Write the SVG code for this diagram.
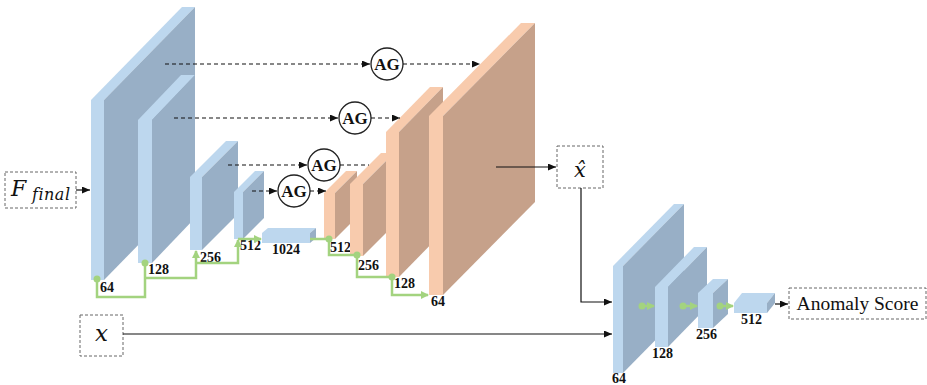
<svg xmlns="http://www.w3.org/2000/svg" width="927" height="385" viewBox="0 0 927 385">
<style>
.bf{fill:#bdd7ee}
.bs{fill:#98afc6}
.of{fill:#f8cbad}
.os{fill:#c6a18a}
.lbl{font-family:"Liberation Serif","Times New Roman",serif;font-weight:bold;font-size:14px;fill:#111}
.ag{fill:#fff;stroke:#222;stroke-width:1.3}
.agt{font-family:"Liberation Serif",serif;font-weight:bold;font-size:17px;fill:#111;text-anchor:middle}
.box{fill:#fff;stroke:#666;stroke-width:1;stroke-dasharray:3 2}
.math{font-family:"DejaVu Serif",serif;font-style:italic;fill:#111}
.ln{fill:none;stroke:#111;stroke-width:1.2}
.dash{fill:none;stroke:#111;stroke-width:1.2;stroke-dasharray:4 3}
.gr{fill:none;stroke:#a3d37f;stroke-width:2.5}
.gd{fill:#a3d37f}
</style>
<defs>
<marker id="ah" markerUnits="userSpaceOnUse" markerWidth="8" markerHeight="7" refX="8" refY="3.5" orient="auto"><path d="M0,0 L8,3.5 L0,7 z" fill="#111"/></marker>
<marker id="gh" markerUnits="userSpaceOnUse" markerWidth="8" markerHeight="8" refX="7" refY="4" orient="auto"><path d="M0,0 L8,4 L0,8 z" fill="#a3d37f"/></marker>
</defs>

<g id="f-final">
<rect class="box" x="5" y="172" width="71" height="36"/>
<text class="math" x="11" y="196" font-size="22">F</text>
<text class="math" x="32" y="200" font-size="16" letter-spacing="0.5">final</text>
</g>
<g id="x-input">
<rect class="box" x="80" y="315" width="43" height="41"/>
<text class="math" x="101.5" y="341" font-size="23" text-anchor="middle">x</text>
</g>

<g id="enc-64">
<polygon class="bf" points="91,100 104,100 195,7 182,7"/>
<polygon class="bs" points="104,100 195,7 195,187 104,280"/>
<rect class="bf" x="91" y="100" width="13" height="180"/>
<text class="lbl" x="100" y="292">64</text>
</g>
<g id="enc-128">
<polygon class="bf" points="138,120 152,120 195,75 181,75"/>
<polygon class="bs" points="152,120 195,75 195,218 152,263"/>
<rect class="bf" x="138" y="120" width="14" height="143"/>
<text class="lbl" x="148" y="274">128</text>
</g>
<g id="enc-256">
<polygon class="bf" points="190,177 202,177 238,141 226,141"/>
<polygon class="bs" points="202,177 238,141 238,214 202,250"/>
<rect class="bf" x="190" y="177" width="12" height="73"/>
<text class="lbl" x="200" y="262">256</text>
</g>
<g id="enc-512">
<polygon class="bf" points="234,192 243,192 264,171 255,171"/>
<polygon class="bs" points="243,192 264,171 264,218 243,239"/>
<rect class="bf" x="234" y="192" width="9" height="47"/>
<text class="lbl" x="240" y="250">512</text>
</g>
<g id="enc-1024">
<polygon class="bf" points="262,233 310,233 316,228 268,228"/>
<polygon class="bs" points="310,233 316,228 316,238 310,243"/>
<rect class="bf" x="262" y="233" width="48" height="10"/>
<text class="lbl" x="272" y="254">1024</text>
</g>

<g id="dec-512">
<polygon class="of" points="324,193 335,193 357,171 346,171"/>
<polygon class="os" points="335,193 357,171 357,217 335,239"/>
<rect class="of" x="324" y="193" width="11" height="46"/>
<text class="lbl" x="330" y="252">512</text>
</g>
<g id="dec-256">
<polygon class="of" points="350,184 363,184 394,153 381,153"/>
<polygon class="os" points="363,184 394,153 394,225 363,256"/>
<rect class="of" x="350" y="184" width="13" height="72"/>
<text class="lbl" x="358" y="270">256</text>
</g>
<g id="dec-128">
<polygon class="of" points="386,132 399,132 443,87 430,87"/>
<polygon class="os" points="399,132 443,87 443,232 399,277"/>
<rect class="of" x="386" y="132" width="13" height="145"/>
<text class="lbl" x="394" y="288">128</text>
</g>
<g id="dec-64">
<polygon class="of" points="429,116 443,116 535,23 521,23"/>
<polygon class="os" points="443,116 535,23 535,202 443,295"/>
<rect class="of" x="429" y="116" width="14" height="179"/>
<text class="lbl" x="431" y="306">64</text>
</g>

<g id="ag-1"><circle class="ag" cx="387" cy="64" r="16"/><text class="agt" x="387" y="70">AG</text></g>
<g id="ag-2"><circle class="ag" cx="355" cy="118" r="16"/><text class="agt" x="355" y="124">AG</text></g>
<g id="ag-3"><circle class="ag" cx="324" cy="165" r="16"/><text class="agt" x="324" y="171">AG</text></g>
<g id="ag-4"><circle class="ag" cx="294" cy="191" r="16"/><text class="agt" x="294" y="197">AG</text></g>

<g id="x-hat">
<rect class="box" x="557" y="146" width="46" height="42"/>
<text class="math" x="580" y="177" font-size="21" text-anchor="middle">x̂</text>
</g>

<g id="cls-64">
<polygon class="bf" points="613,266 623,266 684,204 674,204"/>
<polygon class="bs" points="623,266 684,204 684,311 623,373"/>
<rect class="bf" x="613" y="266" width="10" height="107"/>
<text class="lbl" x="612" y="383">64</text>
</g>
<g id="cls-128">
<polygon class="bf" points="655,287 668,287 707,247 694,247"/>
<polygon class="bs" points="668,287 707,247 707,307 668,347"/>
<rect class="bf" x="655" y="287" width="13" height="60"/>
<text class="lbl" x="652" y="358">128</text>
</g>
<g id="cls-256">
<polygon class="bf" points="698,293 713,293 728,279 713,279"/>
<polygon class="bs" points="713,293 728,279 728,314 713,328"/>
<rect class="bf" x="698" y="293" width="15" height="35"/>
<text class="lbl" x="696" y="339">256</text>
</g>
<g id="cls-512">
<polygon class="bf" points="734,303 767,303 775,293 742,293"/>
<polygon class="bs" points="767,303 775,293 775,303 767,313"/>
<rect class="bf" x="734" y="303" width="33" height="10"/>
<text class="lbl" x="741" y="324">512</text>
</g>

<g id="anomaly-score">
<rect class="box" x="789" y="288" width="137" height="31"/>
<text x="857.5" y="310" font-family="'Liberation Serif',serif" font-size="19.5" fill="#111" text-anchor="middle">Anomaly Score</text>
</g>

<g id="connectors">
<path class="ln" d="M76,190 H90" marker-end="url(#ah)"/>
<path class="ln" d="M496,167 H556" marker-end="url(#ah)"/>
<path class="ln" d="M581,188 V302 H612" marker-end="url(#ah)"/>
<path class="ln" d="M123,334 H612" marker-end="url(#ah)"/>
<path class="ln" d="M775,304 H788" marker-end="url(#ah)"/>

<path class="dash" d="M165,64 H370" marker-end="url(#ah)"/>
<path class="dash" d="M403,64 H480" marker-end="url(#ah)"/>
<path class="dash" d="M174,118 H338" marker-end="url(#ah)"/>
<path class="dash" d="M371,118 H400" marker-end="url(#ah)"/>
<path class="dash" d="M228,165 H307" marker-end="url(#ah)"/>
<path class="dash" d="M340,165 H369"/>
<path class="dash" d="M252,191 H277" marker-end="url(#ah)"/>
<path class="dash" d="M310,191 H326" marker-end="url(#ah)"/>

<path class="gr" d="M97,279 V297 H145 V263"/>
<path class="gr" d="M145,278 H196 V251" marker-end="url(#gh)"/>
<path class="gr" d="M196,263 H238 V240" marker-end="url(#gh)"/>
<path class="gr" d="M238,239 H261" marker-end="url(#gh)"/>
<path class="gr" d="M310,239 H329"/>
<path class="gr" d="M329,239 V255 H357"/>
<path class="gr" d="M357,255 V277 H392"/>
<path class="gr" d="M392,277 V295 H428" marker-end="url(#gh)"/>
<circle class="gd" cx="97" cy="279" r="3.5"/>
<circle class="gd" cx="145" cy="263" r="3.5"/>
<circle class="gd" cx="329" cy="239" r="3.5"/>
<circle class="gd" cx="357" cy="255" r="3.5"/>
<circle class="gd" cx="392" cy="277" r="3.5"/>

<path class="gr" d="M642,306 H654" marker-end="url(#gh)"/>
<path class="gr" d="M683,306 H697" marker-end="url(#gh)"/>
<path class="gr" d="M720,306 H733" marker-end="url(#gh)"/>
<circle class="gd" cx="642" cy="306" r="3.5"/>
<circle class="gd" cx="683" cy="306" r="3.5"/>
<circle class="gd" cx="720" cy="306" r="3.5"/>
</g>
</svg>
